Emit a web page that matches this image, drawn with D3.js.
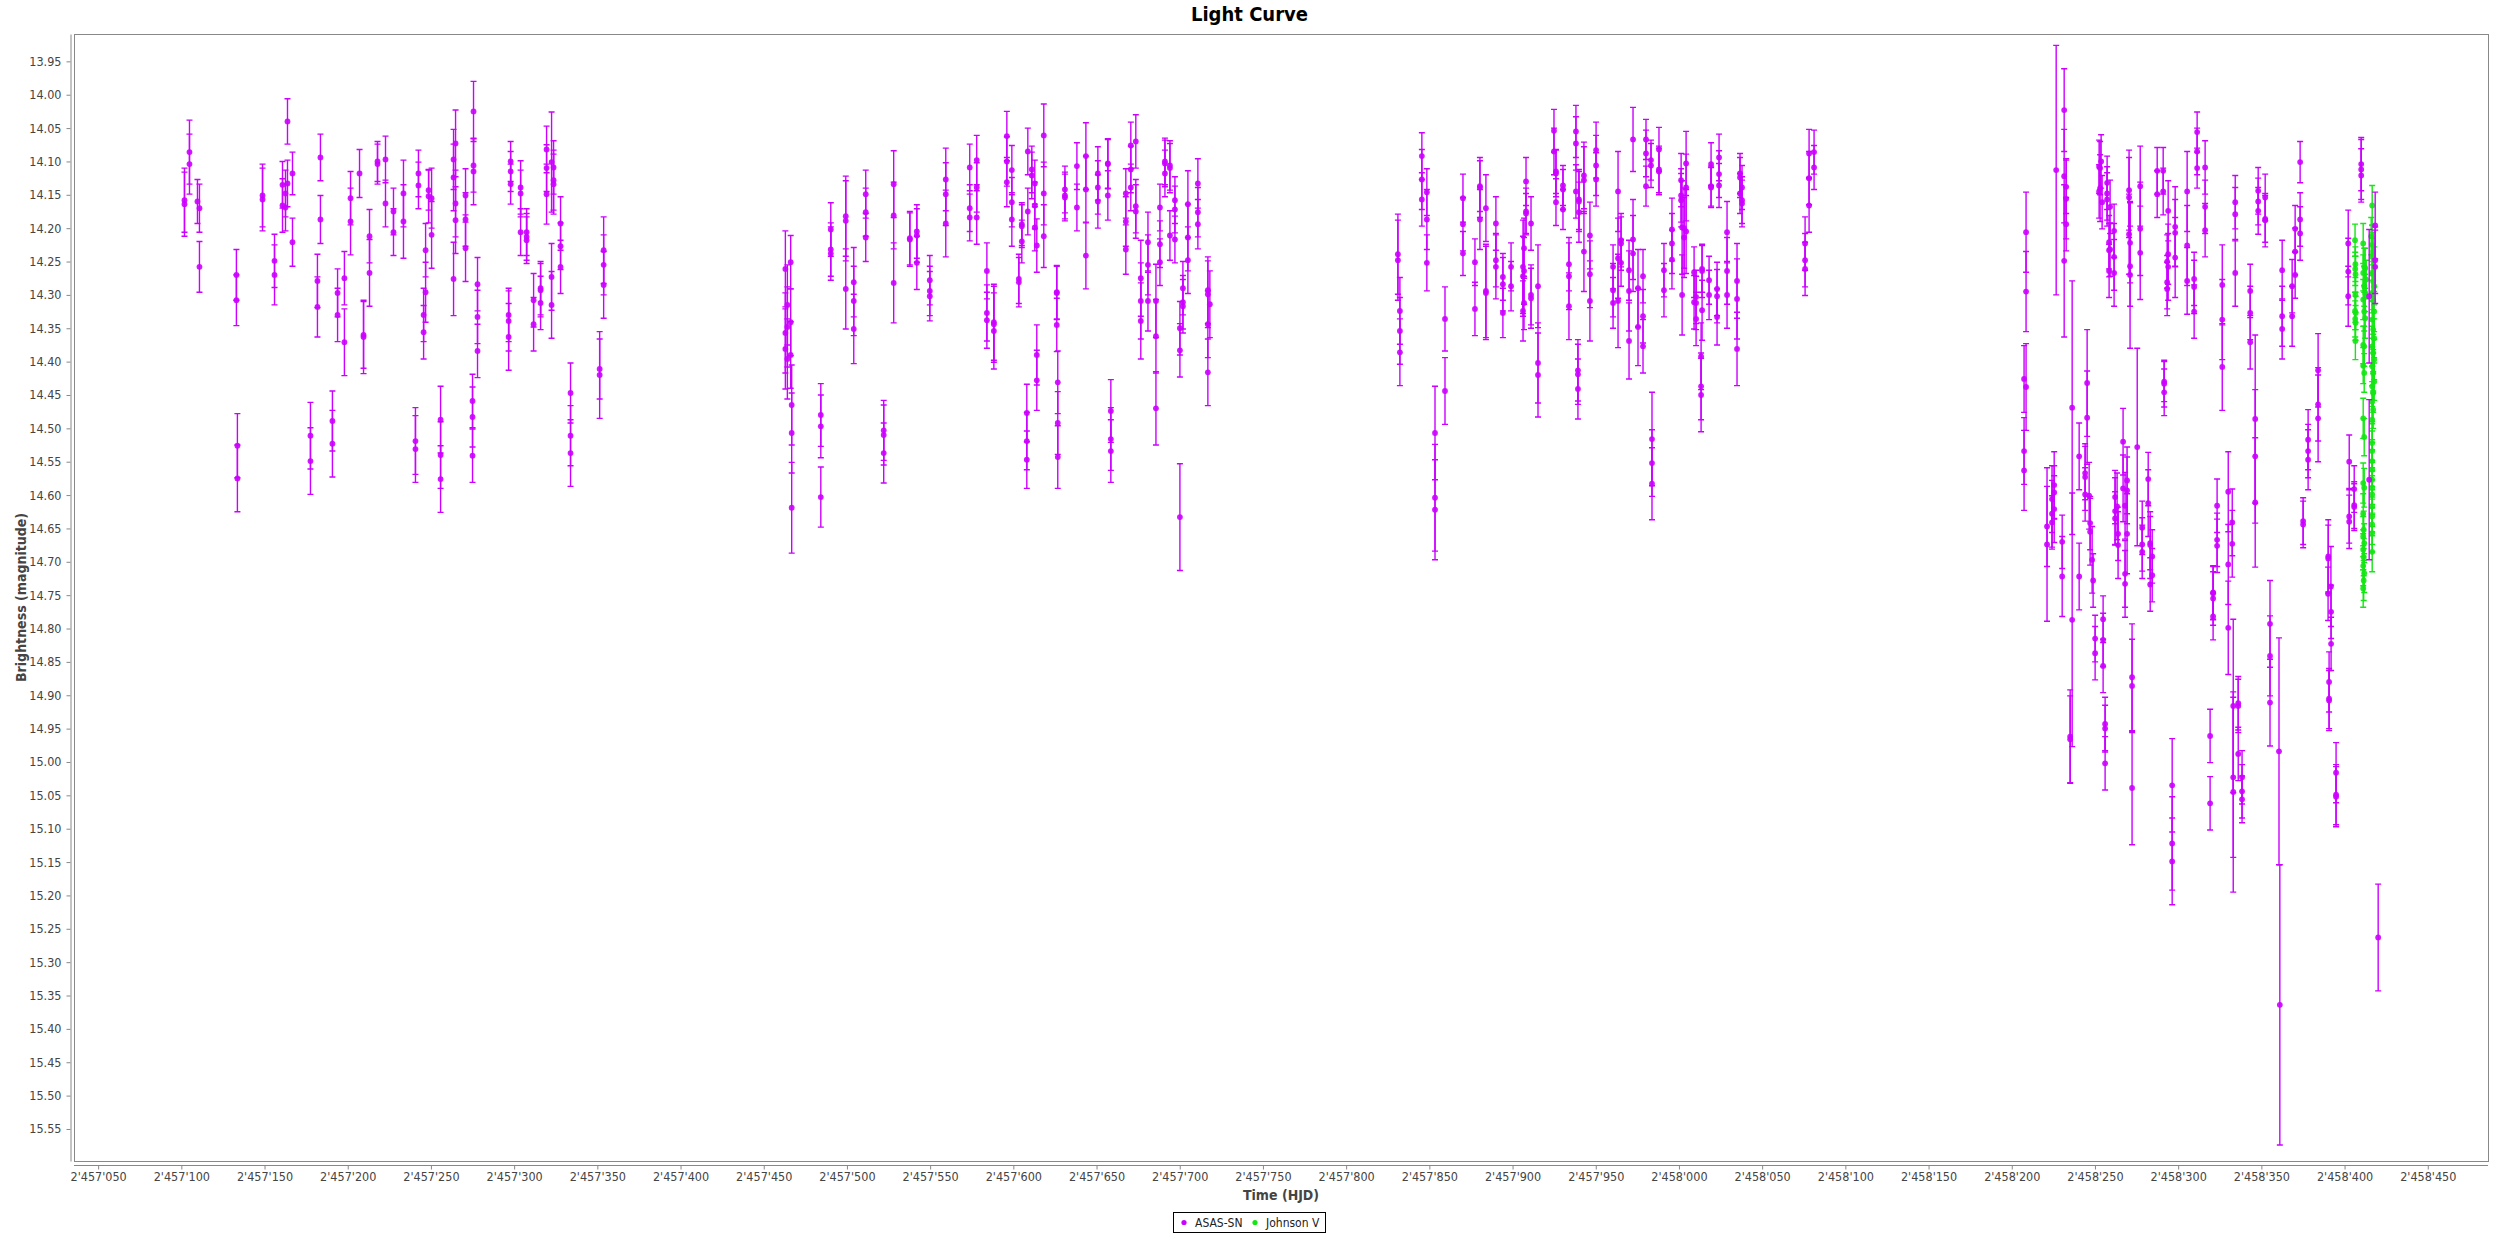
<!DOCTYPE html>
<html><head><meta charset="utf-8">
<script src="https://cdn.jsdelivr.net/npm/d3@7"></script>
<style>
html,body{margin:0;padding:0;background:#fff;}
svg{display:block;}
text{font-family:"DejaVu Sans Condensed","DejaVu Sans",sans-serif;font-stretch:condensed;}
</style></head><body>
<svg id="chart" width="2499" height="1235"></svg>
<script>
const chartTitle = "Light Curve";
const xAxisTitle = "Time (HJD)";
const yAxisTitle = "Brightness (magnitude)";
const seriesNames = ["ASAS-SN", "Johnson V"];
const seriesColors = ["#cc00ff", "#14e614"];

const xTicks = [2457050,2457100,2457150,2457200,2457250,2457300,2457350,2457400,2457450,2457500,
  2457550,2457600,2457650,2457700,2457750,2457800,2457850,2457900,2457950,2458000,2458050,
  2458100,2458150,2458200,2458250,2458300,2458350,2458400,2458450];
const yTicks = [13.95,14.00,14.05,14.10,14.15,14.20,14.25,14.30,14.35,14.40,14.45,14.50,14.55,
  14.60,14.65,14.70,14.75,14.80,14.85,14.90,14.95,15.00,15.05,15.10,15.15,15.20,15.25,15.30,
  15.35,15.40,15.45,15.50,15.55];

// [HJD, magnitude, error]
const asasPoints = [
 [2457101.9,14.158,.048],[2457101.9,14.164,.048],[2457104.9,14.086,.048],[2457104.9,14.104,.045],
 [2457109.7,14.160,.033],[2457110.9,14.170,.036],[2457110.9,14.258,.038],[2457133.1,14.270,.038],
 [2457133.1,14.308,.038],[2457133.7,14.526,.048],[2457133.7,14.575,.05],[2457148.8,14.151,.047],
 [2457148.8,14.157,.047],[2457156.0,14.249,.04],[2457156.0,14.270,.045],[2457160.8,14.135,.035],
 [2457160.8,14.166,.04],[2457162.6,14.148,.035],[2457162.6,14.169,.035],[2457163.8,14.040,.034],
 [2457163.8,14.133,.035],[2457166.8,14.118,.032],[2457166.8,14.221,.036],[2457177.6,14.511,.05],
 [2457177.6,14.549,.05],[2457181.8,14.279,.04],[2457181.8,14.318,.045],[2457183.6,14.094,.035],
 [2457183.6,14.187,.036],[2457190.8,14.489,.045],[2457190.8,14.523,.05],[2457193.9,14.297,.036],
 [2457193.9,14.330,.04],[2457198.0,14.275,.04],[2457198.0,14.371,.05],[2457201.7,14.155,.04],
 [2457201.7,14.190,.05],[2457207.1,14.118,.036],[2457209.5,14.360,.05],[2457209.5,14.363,.055],
 [2457213.1,14.212,.04],[2457213.1,14.267,.05],[2457217.9,14.100,.03],[2457217.9,14.104,.03],
 [2457222.7,14.097,.035],[2457222.7,14.163,.035],[2457227.5,14.175,.035],[2457227.5,14.206,.035],
 [2457233.5,14.148,.05],[2457233.5,14.190,.055],[2457240.7,14.519,.05],[2457240.7,14.531,.05],
 [2457242.5,14.118,.035],[2457242.5,14.136,.035],[2457245.6,14.330,.04],[2457245.6,14.356,.04],
 [2457246.8,14.233,.04],[2457246.8,14.296,.045],[2457248.6,14.143,.03],[2457248.6,14.152,.04],
 [2457250.4,14.155,.045],[2457250.4,14.210,.05],[2457255.8,14.487,.05],[2457255.8,14.540,.05],
 [2457255.8,14.576,.05],[2457263.6,14.097,.045],[2457263.6,14.124,.05],[2457263.6,14.276,.055],
 [2457264.8,14.073,.05],[2457264.8,14.163,.05],[2457264.8,14.188,.05],[2457270.8,14.151,.04],
 [2457270.8,14.187,.04],[2457270.8,14.230,.05],[2457275.0,14.459,.04],[2457275.0,14.483,.045],
 [2457275.0,14.541,.04],[2457275.6,14.025,.045],[2457275.6,14.106,.04],[2457275.6,14.115,.05],
 [2457278.0,14.284,.04],[2457278.0,14.333,.04],[2457278.0,14.384,.04],[2457296.7,14.330,.04],
 [2457296.7,14.339,.045],[2457296.7,14.363,.05],[2457297.9,14.100,.03],[2457297.9,14.115,.03],
 [2457297.9,14.134,.03],[2457303.9,14.139,.04],[2457303.9,14.148,.035],[2457303.9,14.206,.035],
 [2457307.5,14.206,.035],[2457307.5,14.213,.035],[2457307.5,14.218,.035],[2457311.7,14.308,.04],
 [2457311.7,14.344,.04],[2457315.9,14.290,.04],[2457315.9,14.293,.04],[2457315.9,14.312,.04],
 [2457319.5,14.082,.035],[2457319.5,14.110,.035],[2457319.5,14.149,.045],[2457322.5,14.101,.075],
 [2457322.5,14.273,.05],[2457322.5,14.315,.05],[2457323.7,14.109,.04],[2457323.7,14.128,.045],
 [2457323.7,14.134,.045],[2457327.9,14.193,.04],[2457327.9,14.227,.035],[2457327.9,14.258,.04],
 [2457333.9,14.447,.045],[2457333.9,14.511,.045],[2457333.9,14.537,.05],[2457351.4,14.411,.045],
 [2457351.4,14.420,.065],[2457353.8,14.233,.05],[2457353.8,14.255,.045],[2457353.8,14.285,.05],

 [2457463.0,14.261,.057],[2457463.0,14.357,.06],[2457463.0,14.381,.06],[2457464.2,14.315,.06],
 [2457464.2,14.348,.06],[2457464.2,14.396,.06],[2457466.2,14.251,.04],[2457466.2,14.341,.05],
 [2457466.2,14.390,.05],[2457466.8,14.465,.06],[2457466.8,14.507,.06],[2457466.8,14.619,.068],
 [2457484.3,14.480,.047],[2457484.3,14.497,.047],[2457484.3,14.603,.045],[2457490.3,14.202,.04],
 [2457490.3,14.232,.04],[2457490.3,14.238,.04],[2457499.3,14.182,.06],[2457499.3,14.189,.06],
 [2457499.3,14.291,.06],[2457504.1,14.281,.052],[2457504.1,14.309,.052],[2457504.1,14.351,.052],
 [2457511.3,14.149,.036],[2457511.3,14.176,.036],[2457511.3,14.214,.036],[2457522.1,14.503,.045],
 [2457522.1,14.510,.045],[2457522.1,14.537,.045],[2457528.1,14.134,.05],[2457528.1,14.181,.05],
 [2457528.1,14.282,.06],[2457537.8,14.215,.04],[2457537.8,14.217,.04],[2457542.0,14.205,.04],
 [2457542.0,14.211,.04],[2457542.0,14.252,.04],[2457549.8,14.278,.037],[2457549.8,14.294,.037],
 [2457549.8,14.302,.037],[2457559.4,14.127,.047],[2457559.4,14.149,.047],[2457559.4,14.193,.05],
 [2457573.8,14.109,.035],[2457573.8,14.170,.035],[2457573.8,14.184,.035],[2457578.0,14.098,.037],
 [2457578.0,14.139,.037],[2457578.0,14.184,.04],[2457584.1,14.264,.042],[2457584.1,14.327,.042],
 [2457584.1,14.338,.042],[2457588.3,14.341,.057],[2457588.3,14.344,.057],[2457588.3,14.354,.057],
 [2457596.1,14.062,.037],[2457596.1,14.100,.037],[2457596.1,14.131,.037],[2457599.1,14.113,.037],
 [2457599.1,14.161,.037],[2457599.1,14.187,.04],[2457603.3,14.276,.037],[2457603.3,14.281,.037],
 [2457605.1,14.194,.032],[2457605.1,14.197,.032],[2457605.1,14.220,.032],[2457608.1,14.477,.043],
 [2457608.1,14.519,.043],[2457608.1,14.547,.043],[2457608.7,14.085,.035],[2457608.7,14.175,.035],
 [2457611.1,14.112,.035],[2457611.1,14.121,.035],[2457612.9,14.133,.035],[2457612.9,14.166,.035],
 [2457612.9,14.199,.035],[2457614.1,14.226,.04],[2457614.1,14.390,.045],[2457614.1,14.428,.045],
 [2457618.3,14.061,.047],[2457618.3,14.148,.047],[2457618.3,14.212,.047],[2457626.1,14.296,.04],
 [2457626.1,14.297,.04],[2457626.1,14.345,.04],[2457626.7,14.431,.047],[2457626.7,14.492,.047],
 [2457626.7,14.543,.047],[2457631.0,14.142,.035],[2457631.0,14.151,.035],[2457631.0,14.154,.035],
 [2457638.2,14.107,.035],[2457638.2,14.169,.035],[2457643.6,14.092,.05],[2457643.6,14.142,.05],
 [2457643.6,14.241,.05],[2457650.8,14.118,.04],[2457650.8,14.139,.04],[2457650.8,14.160,.04],
 [2457656.8,14.103,.037],[2457656.8,14.104,.037],[2457656.8,14.151,.037],[2457658.6,14.474,.047],
 [2457658.6,14.516,.047],[2457658.6,14.534,.047],[2457667.6,14.148,.037],[2457667.6,14.190,.037],
 [2457667.6,14.232,.037],[2457670.6,14.076,.035],[2457670.6,14.112,.035],[2457670.6,14.139,.035],
 [2457673.6,14.070,.04],[2457673.6,14.167,.04],[2457673.6,14.175,.04],[2457676.6,14.275,.057],
 [2457676.6,14.309,.057],[2457676.6,14.339,.057],[2457680.9,14.221,.045],[2457680.9,14.255,.045],
 [2457680.9,14.309,.045],[2457685.7,14.309,.055],[2457685.7,14.362,.055],[2457685.7,14.470,.055],
 [2457688.1,14.169,.035],[2457688.1,14.224,.035],[2457688.1,14.251,.035],[2457691.1,14.100,.035],
 [2457691.1,14.103,.035],[2457691.1,14.118,.035],[2457694.1,14.106,.037],[2457694.1,14.110,.037],
 [2457694.1,14.211,.037],[2457697.1,14.158,.035],[2457697.1,14.172,.035],[2457697.1,14.217,.035],
 [2457700.1,14.350,.04],[2457700.1,14.383,.04],[2457700.1,14.633,.08],[2457701.9,14.290,.04],
 [2457701.9,14.311,.04],[2457701.9,14.317,.04],[2457704.9,14.164,.05],[2457704.9,14.214,.05],
 [2457704.9,14.248,.05],[2457710.9,14.133,.037],[2457710.9,14.176,.037],[2457710.9,14.194,.037],
 [2457716.9,14.293,.05],[2457716.9,14.299,.05],[2457716.9,14.344,.05],[2457716.9,14.416,.05],
 [2457718.1,14.314,.05],

 [2457831.1,14.239,.06],[2457831.1,14.248,.06],[2457832.3,14.324,.05],[2457832.3,14.354,.05],
 [2457832.3,14.386,.05],[2457845.5,14.092,.035],[2457845.5,14.127,.045],[2457845.5,14.157,.04],
 [2457848.5,14.146,.035],[2457848.5,14.187,.045],[2457848.5,14.252,.042],[2457853.4,14.507,.07],
 [2457853.4,14.604,.08],[2457853.4,14.622,.075],[2457859.4,14.336,.048],[2457859.4,14.444,.05],
 [2457870.2,14.155,.036],[2457870.2,14.194,.04],[2457870.2,14.238,.033],[2457877.4,14.251,.035],
 [2457877.4,14.321,.04],[2457880.4,14.137,.038],[2457880.4,14.139,.045],[2457880.4,14.187,.045],
 [2457884.0,14.170,.05],[2457884.0,14.294,.07],[2457884.0,14.297,.07],[2457890.0,14.193,.04],
 [2457890.0,14.248,.04],[2457890.0,14.258,.048],[2457894.2,14.273,.035],[2457894.2,14.284,.04],
 [2457894.2,14.327,.037],[2457899.1,14.258,.036],[2457899.1,14.287,.037],[2457906.3,14.258,.07],
 [2457906.3,14.272,.06],[2457906.3,14.324,.045],[2457906.9,14.230,.045],[2457906.9,14.264,.05],
 [2457906.9,14.312,.04],[2457908.1,14.130,.036],[2457908.1,14.175,.035],[2457908.1,14.178,.03],
 [2457911.1,14.193,.04],[2457911.1,14.300,.045],[2457911.1,14.305,.045],[2457915.3,14.287,.062],
 [2457915.3,14.402,.06],[2457915.3,14.420,.063],[2457924.9,14.054,.032],[2457924.9,14.085,.035],
 [2457926.1,14.115,.033],[2457926.1,14.118,.035],[2457926.1,14.161,.035],[2457930.3,14.136,.03],
 [2457930.3,14.142,.03],[2457930.3,14.172,.03],[2457933.9,14.254,.04],[2457933.9,14.272,.05],
 [2457933.9,14.317,.05],[2457938.1,14.055,.039],[2457938.1,14.073,.04],[2457938.1,14.145,.04],
 [2457939.3,14.413,.046],[2457939.3,14.419,.045],[2457939.3,14.441,.045],[2457939.9,14.157,.045],
 [2457939.9,14.160,.045],[2457939.9,14.176,.045],[2457942.9,14.121,.05],[2457942.9,14.128,.05],
 [2457942.9,14.235,.06],[2457946.5,14.211,.05],[2457946.5,14.269,.05],[2457946.5,14.309,.06],
 [2457950.2,14.083,.042],[2457950.2,14.106,.045],[2457950.2,14.127,.04],[2457960.4,14.258,.033],
 [2457960.4,14.293,.04],[2457960.4,14.312,.038],[2457963.4,14.145,.06],[2457963.4,14.245,.06],
 [2457963.4,14.309,.07],[2457965.2,14.218,.04],[2457965.2,14.223,.04],[2457965.2,14.252,.035],
 [2457970.0,14.263,.045],[2457970.0,14.294,.06],[2457970.0,14.369,.057],[2457972.4,14.067,.048],
 [2457972.4,14.217,.06],[2457972.4,14.238,.057],[2457975.4,14.290,.058],[2457975.4,14.348,.058],
 [2457978.4,14.272,.04],[2457978.4,14.332,.04],[2457978.4,14.377,.04],[2457980.2,14.067,.03],
 [2457980.2,14.088,.035],[2457980.2,14.137,.03],[2457983.2,14.098,.03],[2457983.2,14.106,.033],
 [2457983.8,14.516,.07],[2457983.8,14.552,.05],[2457983.8,14.583,.054],[2457988.0,14.082,.033],
 [2457988.0,14.112,.035],[2457988.0,14.115,.035],[2457991.0,14.263,.04],[2457991.0,14.293,.04],
 [2457995.8,14.202,.047],[2457995.8,14.223,.045],[2457995.8,14.247,.044],[2458001.3,14.128,.04],
 [2458001.3,14.151,.04],[2458001.3,14.158,.04],[2458001.9,14.199,.07],[2458001.9,14.300,.06],
 [2458003.1,14.200,.06],[2458003.1,14.214,.06],[2458004.3,14.103,.048],[2458004.3,14.139,.05],
 [2458004.3,14.205,.063],[2458009.1,14.266,.038],[2458009.1,14.311,.04],[2458010.3,14.303,.04],
 [2458010.3,14.312,.04],[2458010.3,14.336,.04],[2458013.3,14.392,.05],[2458013.3,14.437,.05],
 [2458013.3,14.450,.055],[2458013.9,14.261,.035],[2458013.9,14.264,.04],[2458013.9,14.323,.045],
 [2458018.1,14.278,.036],[2458018.1,14.300,.037],[2458019.3,14.104,.032],[2458019.3,14.137,.03],
 [2458019.3,14.139,.03],[2458022.9,14.291,.04],[2458022.9,14.302,.04],[2458022.9,14.333,.042],
 [2458024.1,14.094,.035],[2458024.1,14.119,.035],[2458024.1,14.136,.033],[2458028.9,14.206,.046],
 [2458028.9,14.264,.05],[2458028.9,14.300,.05],[2458034.9,14.279,.056],[2458034.9,14.306,.06],
 [2458034.9,14.381,.055],[2458036.7,14.118,.03],[2458036.7,14.124,.03],[2458036.7,14.148,.03],
 [2458037.9,14.139,.033],[2458037.9,14.158,.035],[2458037.9,14.163,.035],[2458075.8,14.223,.04],
 [2458075.8,14.248,.04],[2458075.8,14.261,.04],[2458078.2,14.088,.036],[2458078.2,14.125,.04],
 [2458078.2,14.166,.04],[2458081.2,14.086,.033],[2458081.2,14.109,.033],

 [2458208.6,14.206,.06],[2458208.6,14.295,.06],[2458207.4,14.426,.05],[2458207.4,14.534,.05],
 [2458207.4,14.563,.06],[2458208.6,14.438,.065],[2458221.2,14.647,.06],[2458221.2,14.674,.115],
 [2458224.2,14.606,.05],[2458224.2,14.628,.05],[2458224.2,14.641,.04],[2458225.5,14.585,.05],
 [2458225.5,14.596,.04],[2458225.5,14.621,.05],[2458226.7,14.113,.187],[2458230.3,14.670,.04],
 [2458230.3,14.722,.06],[2458231.5,14.023,.062],[2458231.5,14.122,.07],[2458231.5,14.249,.114],
 [2458232.7,14.138,.04],[2458232.7,14.156,.06],[2458232.7,14.194,.04],[2458236.3,14.469,.19],
 [2458236.3,14.787,.19],[2458240.5,14.542,.05],[2458240.5,14.722,.05],[2458244.1,14.567,.04],
 [2458244.1,14.573,.05],[2458244.1,14.599,.04],[2458245.3,14.432,.08],[2458245.3,14.484,.07],
 [2458246.5,14.601,.05],[2458247.1,14.642,.04],[2458247.1,14.655,.05],[2458248.3,14.697,.05],
 [2458248.9,14.728,.04],[2458250.1,14.815,.035],[2458250.1,14.837,.04],[2458254.9,14.786,.035],
 [2458254.9,14.817,.04],[2458254.9,14.856,.04],[2458256.1,14.943,.04],[2458256.1,14.950,.035],
 [2458256.1,15.002,.04],[2458235.1,14.962,.07],[2458235.1,14.966,.065],[2458252.5,14.108,.04],
 [2458252.5,14.145,.04],[2458253.1,14.110,.04],[2458253.7,14.100,.04],[2458254.3,14.161,.04],
 [2458253.1,14.140,.05],[2458257.3,14.132,.04],[2458257.3,14.148,.04],[2458257.3,14.157,.04],
 [2458259.1,14.168,.04],[2458258.5,14.221,.04],[2458258.5,14.233,.04],[2458259.1,14.232,.04],
 [2458258.5,14.264,.04],[2458261.5,14.204,.04],[2458261.5,14.243,.05],[2458261.5,14.267,.05],
 [2458262.1,14.603,.04],[2458262.1,14.624,.05],[2458262.1,14.635,.04],[2458263.3,14.617,.05],
 [2458263.9,14.658,.04],[2458263.9,14.675,.05],[2458266.9,14.520,.05],[2458266.9,14.590,.05],
 [2458268.1,14.616,.05],[2458268.1,14.718,.05],[2458268.1,14.733,.05],[2458269.3,14.578,.05],
 [2458269.3,14.593,.05],[2458269.3,14.658,.06],[2458270.5,14.143,.06],[2458270.5,14.154,.06],
 [2458270.5,14.209,.06],[2458271.1,14.222,.06],[2458271.1,14.257,.06],[2458271.1,14.270,.11],
 [2458272.3,14.873,.08],[2458272.3,14.886,.07],[2458272.3,15.039,.085],[2458275.4,14.528,.148],
 [2458277.2,14.137,.06],[2458277.2,14.201,.07],[2458277.2,14.237,.07],[2458278.4,14.649,.04],
 [2458278.4,14.674,.04],[2458278.4,14.685,.04],[2458282.0,14.576,.04],[2458282.0,14.612,.05],
 [2458283.2,14.672,.04],[2458283.2,14.675,.05],[2458284.4,14.692,.04],[2458284.4,14.720,.04],
 [2458283.2,14.734,.04],[2458287.4,14.114,.035],[2458287.4,14.149,.035],[2458291.0,14.114,.035],
 [2458291.0,14.145,.035],[2458291.6,14.430,.03],[2458291.6,14.433,.035],[2458291.6,14.446,.035],
 [2458294.0,14.174,.045],[2458293.4,14.250,.04],[2458293.4,14.281,.04],[2458293.4,14.291,.04],
 [2458294.0,14.239,.045],[2458294.0,14.258,.05],[2458296.4,15.035,.07],[2458296.4,15.122,.07],
 [2458296.4,15.149,.065],[2458298.2,14.198,.06],[2458298.2,14.207,.05],[2458298.2,14.244,.06],
 [2458305.4,14.145,.06],[2458305.4,14.226,.06],[2458305.4,14.279,.05],[2458309.6,14.276,.04],
 [2458309.6,14.288,.04],[2458309.6,14.325,.04],[2458311.4,14.056,.03],[2458311.4,14.085,.035],
 [2458311.4,14.110,.03],[2458316.2,14.109,.04],[2458316.2,14.168,.04],[2458316.2,14.203,.04],
 [2458319.2,14.961,.04],[2458319.2,15.062,.04],[2458321.0,14.746,.04],[2458321.0,14.747,.04],
 [2458321.0,14.755,.04],[2458321.0,14.782,.035],[2458323.4,14.616,.04],[2458323.4,14.667,.04],
 [2458323.4,14.676,.04],[2458326.5,14.285,.06],[2458326.5,14.337,.06],[2458326.5,14.408,.065],
 [2458330.1,14.595,.06],[2458330.1,14.704,.06],[2458330.1,14.799,.07],[2458332.5,14.641,.05],
 [2458332.5,14.673,.05],[2458333.1,14.916,.13],[2458333.1,15.023,.12],[2458333.1,15.045,.15],
 [2458334.3,14.161,.04],[2458334.3,14.179,.04],[2458334.3,14.267,.05],[2458336.1,14.912,.04],
 [2458336.1,14.916,.04],[2458336.1,14.988,.04],[2458338.4,15.023,.04],[2458338.4,15.044,.04],
 [2458338.4,15.056,.035],[2458343.3,14.294,.04],[2458343.3,14.327,.04],[2458343.3,14.371,.04],
 [2458346.3,14.486,.126],[2458346.3,14.542,.1],[2458346.3,14.611,.097],[2458348.1,14.144,.035],
 [2458348.1,14.160,.035],[2458348.1,14.174,.035],[2458352.3,14.154,.035],[2458352.3,14.186,.035],
 [2458352.3,14.188,.04],[2458355.2,14.793,.065],[2458355.2,14.841,.06],[2458355.2,14.911,.065],
 [2458360.6,14.984,.17],[2458361.1,15.364,.21],[2458362.5,14.263,.045],[2458362.5,14.332,.045],
 [2458362.5,14.351,.045],[2458368.5,14.287,.04],[2458368.5,14.332,.045],[2458370.3,14.201,.035],
 [2458370.3,14.235,.035],[2458370.3,14.270,.035],[2458373.3,14.101,.031],[2458373.3,14.187,.04],
 [2458373.3,14.208,.04],[2458375.1,14.639,.035],[2458375.1,14.644,.035],[2458378.1,14.517,.045],
 [2458378.1,14.534,.04],[2458378.1,14.547,.045],[2458384.1,14.413,.055],[2458384.1,14.464,.055],
 [2458384.1,14.485,.065],[2458390.2,14.692,.055],[2458390.2,14.695,.05],[2458391.8,14.737,.06],
 [2458390.1,14.748,.04],[2458391.9,14.775,.04],[2458391.9,14.823,.04],[2458390.7,14.880,.045],
 [2458390.7,14.905,.045],[2458390.7,14.908,.045],[2458394.9,15.016,.045],[2458394.9,15.049,.045],
 [2458394.9,15.052,.045],[2458402.2,14.223,.05],[2458402.2,14.265,.05],[2458402.2,14.302,.045],
 [2458402.8,14.550,.04],[2458402.8,14.632,.04],[2458402.8,14.640,.04],[2458405.8,14.591,.035],
 [2458405.8,14.615,.035],[2458405.8,14.618,.035],[2458410.0,14.104,.04],[2458410.0,14.112,.045],
 [2458410.0,14.121,.04],[2458414.8,14.302,.1],[2458414.8,14.577,.12],[2458418.4,14.196,.05],
 [2458418.4,14.248,.05],[2458418.4,14.258,.055],[2458420.2,15.263,.08]
];

// [HJD, magnitude, error]
const johnsonPoints = [
 [2458406.3,14.218,.024],[2458406.5,14.254,.026],[2458406.4,14.261,.025],[2458406.6,14.269,.027],
 [2458406.5,14.300,.026],[2458406.3,14.324,.028],[2458406.7,14.327,.025],[2458406.4,14.336,.027],
 [2458406.6,14.342,.026],[2458406.5,14.369,.028],
 [2458411.2,14.223,.03],[2458411.8,14.258,.028],[2458412.4,14.260,.03],[2458411.2,14.267,.027],
 [2458413.0,14.277,.029],[2458411.8,14.287,.03],[2458412.4,14.297,.028],[2458411.2,14.307,.03],
 [2458411.8,14.325,.029],[2458412.4,14.335,.03],[2458411.2,14.375,.028],[2458411.8,14.377,.03],
 [2458411.2,14.406,.027],[2458411.8,14.417,.029],[2458411.2,14.485,.03],[2458411.8,14.513,.028],
 [2458411.2,14.582,.03],[2458411.8,14.589,.029],[2458411.2,14.628,.03],[2458411.5,14.652,.028],
 [2458411.2,14.662,.03],[2458411.8,14.672,.029],[2458411.2,14.682,.03],[2458411.5,14.693,.028],
 [2458411.2,14.706,.03],[2458411.8,14.717,.029],[2458411.5,14.728,.03],[2458411.2,14.740,.028],
 [2458416.6,14.166,.03],[2458416.0,14.212,.028],[2458416.6,14.225,.03],[2458417.2,14.235,.029],
 [2458416.6,14.243,.028],[2458417.8,14.258,.03],[2458416.6,14.268,.029],[2458417.2,14.280,.03],
 [2458417.8,14.287,.028],[2458416.6,14.297,.03],[2458417.2,14.307,.029],[2458417.8,14.325,.03],
 [2458416.6,14.337,.028],[2458417.2,14.352,.03],[2458417.8,14.365,.029],[2458416.6,14.377,.03],
 [2458417.2,14.387,.028],[2458417.8,14.397,.03],[2458416.6,14.407,.029],[2458417.2,14.417,.03],
 [2458417.8,14.430,.028],[2458416.6,14.437,.03],[2458417.2,14.447,.029],[2458416.6,14.460,.03],
 [2458417.2,14.472,.028],[2458416.6,14.487,.03],[2458416.6,14.522,.029],[2458416.6,14.534,.03],
 [2458416.6,14.549,.028],[2458416.6,14.562,.03],[2458416.6,14.577,.029],[2458416.6,14.589,.03],
 [2458416.6,14.599,.028],[2458416.6,14.617,.03],[2458416.6,14.632,.029],[2458416.6,14.644,.03],
 [2458416.6,14.657,.028],[2458416.6,14.685,.03]
];

const svg = d3.select("#chart");
const plot = {left: 74, right: 2488, top: 34, bottom: 1161};
const x = d3.scaleLinear().domain([2457035.5, 2458486.2]).range([plot.left, plot.right]);
const y = d3.scaleLinear().domain([13.909, 15.598]).range([plot.top, plot.bottom]);

const loc = d3.formatLocale({decimal: ".", thousands: "'", grouping: [3], currency: ["", ""]});
const fmtX = loc.format(",d");
const fmtY = d3.format(".2f");

svg.append("rect").attr("width", 2499).attr("height", 1235).attr("fill", "#fff");

// plot border
svg.append("rect").attr("x", plot.left + 0.5).attr("y", plot.top + 0.5)
  .attr("width", plot.right - plot.left).attr("height", plot.bottom - plot.top)
  .attr("fill", "none").attr("stroke", "#888").attr("stroke-width", 1);

// y axis
const gy = svg.append("g").attr("transform", "translate(70.5,0)")
  .call(d3.axisLeft(y).tickValues(yTicks).tickFormat(fmtY).tickSize(4).tickSizeOuter(0).tickPadding(5));
// x axis
const gx = svg.append("g").attr("transform", "translate(0,1165.5)")
  .call(d3.axisBottom(x).tickValues(xTicks).tickFormat(fmtX).tickSize(4).tickSizeOuter(0).tickPadding(3));
gx.select(".domain").attr("d", `M${plot.left},0H${plot.right}`);
[gx, gy].forEach(g => {
  g.select(".domain").attr("stroke", "#888");
  g.selectAll(".tick line").attr("stroke", "#888");
  g.selectAll(".tick text").attr("fill", "#444").style("font-size", "12.5px")
    .style("font-family", '"DejaVu Sans Condensed","DejaVu Sans",sans-serif');
});

// clip
svg.append("clipPath").attr("id", "clip").append("rect")
  .attr("x", plot.left + 1).attr("y", plot.top + 1)
  .attr("width", plot.right - plot.left - 1).attr("height", plot.bottom - plot.top - 1);
const area = svg.append("g").attr("clip-path", "url(#clip)");

function drawSeries(points, color) {
  const g = area.append("g");
  const bars = g.append("g").attr("stroke", color).attr("stroke-width", 1.4).attr("fill", "none");
  bars.selectAll("path").data(points).join("path")
    .attr("d", d => {
      const cx = x(d[0]), y1 = y(d[1] - d[2]), y2 = y(d[1] + d[2]);
      return `M${cx},${y1}V${y2}M${cx - 3},${y1}H${cx + 3}M${cx - 3},${y2}H${cx + 3}`;
    });
  g.append("g").selectAll("circle").data(points).join("circle")
    .attr("cx", d => x(d[0])).attr("cy", d => y(d[1])).attr("r", 2.9)
    .attr("fill", color).attr("fill-opacity", 0.9);
}
drawSeries(johnsonPoints, seriesColors[1]);
drawSeries(asasPoints, seriesColors[0]);

// titles
svg.append("text").attr("x", 1249.5).attr("y", 21).attr("text-anchor", "middle")
  .style("font-size", "20px").style("font-weight", "bold").attr("fill", "#000").text(chartTitle);
svg.append("text").attr("x", (plot.left + plot.right) / 2).attr("y", 1200).attr("text-anchor", "middle")
  .style("font-size", "14px").style("font-weight", "bold").attr("fill", "#444").text(xAxisTitle);
svg.append("text").attr("transform", `translate(26,${(plot.top + plot.bottom) / 2}) rotate(-90)`)
  .attr("text-anchor", "middle").style("font-size", "14px").style("font-weight", "bold")
  .attr("fill", "#444").text(yAxisTitle);

// legend
const lg = svg.append("g");
lg.append("rect").attr("x", 1173.5).attr("y", 1212.5).attr("width", 152).attr("height", 20)
  .attr("fill", "#fff").attr("stroke", "#000").attr("stroke-width", 1);
const legendX = [1184, 1255];
seriesNames.forEach((name, i) => {
  lg.append("circle").attr("cx", legendX[i]).attr("cy", 1222.5).attr("r", 2.6).attr("fill", seriesColors[i]);
  lg.append("text").attr("x", legendX[i] + 11).attr("y", 1227).style("font-size", "12px")
    .attr("fill", "#222").text(name);
});
</script>
</body></html>
